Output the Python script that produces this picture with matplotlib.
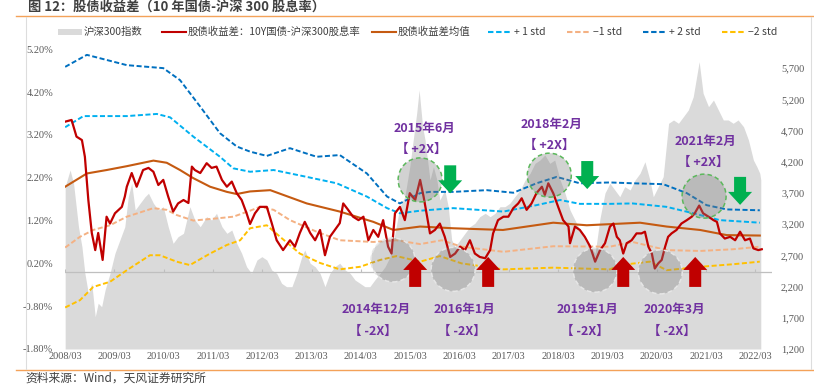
import numpy as np
import matplotlib.pyplot as plt
from matplotlib.lines import Line2D
from matplotlib.patches import Rectangle, Ellipse, Polygon

plt.rcParams['font.family'] = ['Noto Sans CJK SC', 'DejaVu Sans']
plt.rcParams['axes.unicode_minus'] = False

# ---------------- 数据（横轴为小数年份） ----------------
# 股债收益差：10Y国债-沪深300股息率 (%)
spread_x = [2008.17, 2008.30, 2008.40, 2008.51, 2008.57, 2008.64, 2008.71, 2008.78, 2008.84, 2008.93,
            2009.01, 2009.08, 2009.18, 2009.32, 2009.38, 2009.42, 2009.52, 2009.62, 2009.75, 2009.86,
            2009.96, 2010.06, 2010.16, 2010.26, 2010.36, 2010.46, 2010.57, 2010.67, 2010.74, 2010.80,
            2010.91, 2011.04, 2011.14, 2011.24, 2011.35, 2011.45, 2011.55, 2011.65, 2011.75, 2011.85,
            2011.92, 2012.02, 2012.12, 2012.26, 2012.36, 2012.46, 2012.59, 2012.73, 2012.83, 2012.93,
            2013.03, 2013.14, 2013.24, 2013.34, 2013.44, 2013.54, 2013.64, 2013.74, 2013.81, 2013.91,
            2014.01, 2014.12, 2014.22, 2014.32, 2014.42, 2014.52, 2014.62, 2014.72, 2014.79, 2014.86,
            2014.96, 2015.06, 2015.16, 2015.27, 2015.37, 2015.44, 2015.50, 2015.57, 2015.67, 2015.77,
            2015.87, 2015.98, 2016.08, 2016.18, 2016.28, 2016.38, 2016.48, 2016.58, 2016.69, 2016.79,
            2016.85, 2016.95, 2017.06, 2017.16, 2017.26, 2017.36, 2017.43, 2017.53, 2017.63, 2017.73,
            2017.84, 2017.90, 2017.97, 2018.07, 2018.17, 2018.27, 2018.38, 2018.41, 2018.51, 2018.61,
            2018.71, 2018.82, 2018.92, 2019.02, 2019.12, 2019.22, 2019.29, 2019.36, 2019.42, 2019.49,
            2019.56, 2019.66, 2019.76, 2019.86, 2019.93, 2020.00, 2020.07, 2020.13, 2020.20, 2020.27,
            2020.34, 2020.40, 2020.47, 2020.57, 2020.67, 2020.78, 2020.88, 2020.94, 2021.03, 2021.11,
            2021.22, 2021.32, 2021.39, 2021.45, 2021.55, 2021.66, 2021.76, 2021.86, 2021.96, 2022.06,
            2022.13, 2022.23, 2022.30]
spread_v = [3.51, 3.55, 3.16, 3.08, 2.69, 1.68, 0.91, 0.51, 0.91, 0.28,
            1.29, 1.13, 1.37, 1.52, 1.76, 1.99, 2.31, 1.99, 2.38, 2.43,
            2.34, 2.03, 2.15, 1.76, 1.41, 1.60, 1.68, 1.61, 2.46, 2.38,
            2.31, 2.54, 2.43, 2.46, 2.15, 1.99, 2.11, 1.84, 1.68, 1.37,
            1.12, 1.37, 1.52, 1.52, 1.14, 0.74, 0.51, 0.74, 0.59, 0.91,
            1.17, 0.91, 0.74, 0.98, 0.39, 0.82, 0.98, 1.14, 1.60, 1.45,
            1.29, 1.21, 1.29, 0.74, 0.98, 0.82, 1.21, 0.59, 0.43, 1.37,
            1.52, 1.21, 1.84, 1.68, 2.15, 1.76, 1.37, 0.90, 0.98, 1.13,
            0.82, 0.35, 0.43, 0.59, 0.51, 0.74, 0.43, 0.35, 0.32, 0.51,
            0.90, 1.21, 1.29, 1.29, 1.49, 1.60, 1.72, 1.45, 1.60, 1.84,
            1.99, 1.80, 2.07, 1.84, 1.52, 1.21, 1.06, 0.67, 1.06, 0.98,
            0.82, 0.59, 0.24, 0.51, 0.67, 1.06, 1.13, 0.82, 0.74, 0.43,
            0.67, 0.74, 0.90, 0.90, 0.94, 0.59, 0.43, 0.08, 0.20, 0.28,
            0.59, 0.82, 0.90, 0.98, 1.13, 1.21, 1.29, 1.37, 1.55, 1.37,
            1.29, 1.21, 1.17, 0.90, 0.78, 0.82, 0.74, 0.94, 0.74, 0.78,
            0.55, 0.51, 0.53]

# 沪深300指数（右轴）
csi_x = [2008.17, 2008.27, 2008.34, 2008.44, 2008.51, 2008.57, 2008.64, 2008.71, 2008.78, 2008.84,
         2008.91, 2008.98, 2009.08, 2009.18, 2009.28, 2009.38, 2009.45, 2009.52, 2009.59, 2009.69,
         2009.79, 2009.86, 2009.96, 2010.06, 2010.16, 2010.26, 2010.36, 2010.46, 2010.57, 2010.70,
         2010.80, 2010.91, 2011.04, 2011.14, 2011.24, 2011.35, 2011.45, 2011.55, 2011.65, 2011.75,
         2011.85, 2011.95, 2012.06, 2012.16, 2012.26, 2012.36, 2012.46, 2012.56, 2012.66, 2012.77,
         2012.87, 2012.97, 2013.03, 2013.14, 2013.24, 2013.34, 2013.44, 2013.54, 2013.64, 2013.74,
         2013.85, 2013.95, 2014.05, 2014.15, 2014.25, 2014.35, 2014.45, 2014.56, 2014.66, 2014.76,
         2014.86, 2014.96, 2015.06, 2015.16, 2015.23, 2015.30, 2015.35, 2015.42, 2015.47, 2015.57,
         2015.64, 2015.71, 2015.77, 2015.87, 2015.94, 2016.01, 2016.08, 2016.18, 2016.28, 2016.38,
         2016.48, 2016.58, 2016.69, 2016.79, 2016.89, 2016.99, 2017.09, 2017.19, 2017.29, 2017.40,
         2017.50, 2017.60, 2017.70, 2017.80, 2017.90, 2018.00, 2018.10, 2018.21, 2018.31, 2018.41,
         2018.51, 2018.61, 2018.71, 2018.82, 2018.92, 2019.02, 2019.12, 2019.22, 2019.32, 2019.42,
         2019.52, 2019.63, 2019.73, 2019.83, 2019.93, 2020.03, 2020.10, 2020.20, 2020.30, 2020.41,
         2020.51, 2020.61, 2020.71, 2020.81, 2020.91, 2021.03, 2021.11, 2021.22, 2021.32, 2021.42,
         2021.52, 2021.62, 2021.72, 2021.82, 2021.93, 2022.03, 2022.13, 2022.20, 2022.26, 2022.28]
csi_v = [3802, 4069, 3856, 3160, 2840, 2413, 2093, 2253, 1718, 1933,
         1878, 2146, 2413, 2734, 2947, 3160, 3641, 3856, 3428, 3536,
         3641, 3696, 3536, 3428, 3481, 3160, 2894, 3000, 3054, 3481,
         3268, 3160, 3321, 3268, 3375, 3160, 3054, 3107, 2894, 2734,
         2519, 2413, 2627, 2680, 2627, 2466, 2413, 2253, 2199, 2199,
         2413, 2680, 2787, 2574, 2519, 2413, 2199, 2413, 2519, 2574,
         2466, 2413, 2306, 2253, 2199, 2199, 2306, 2413, 2519, 2680,
         3054, 3481, 3641, 4122, 4550, 4978, 5352, 4763, 4550, 3909,
         4122, 3909, 3588, 3749, 3481, 2947, 2840, 2947, 3054, 3160,
         3214, 3321, 3375, 3321, 3375, 3481, 3481, 3536, 3641, 3749,
         3909, 4016, 4176, 4229, 4310, 4176, 4229, 3909, 3696, 3428,
         3268, 3107, 2947, 2840, 2734, 3300, 3700, 3856, 3749, 3641,
         3802, 3749, 3909, 4016, 4202, 3909, 3641, 3802, 3962, 4818,
         4871, 4818, 4924, 5031, 5244, 5805, 5299, 5084, 5191, 5031,
         4871, 4871, 4818, 4871, 4763, 4550, 4229, 4122, 4016, 3909]

# 股债收益差均值
mean_x = [2008.17, 2008.61, 2009.01, 2009.42, 2009.96, 2010.23, 2010.50, 2010.77, 2011.11, 2011.45,
          2011.65, 2011.92, 2012.33, 2013.07, 2013.74, 2014.42, 2014.83, 2015.37, 2016.04, 2017.05,
          2018.07, 2018.75, 2019.83, 2020.37, 2021.05, 2021.59, 2022.26]
mean_v = [1.99, 2.30, 2.38, 2.47, 2.60, 2.55, 2.38, 2.19, 1.99, 1.87,
          1.82, 1.88, 1.91, 1.60, 1.41, 1.17, 0.98, 1.06, 1.02, 0.98,
          1.15, 1.09, 1.15, 1.06, 0.98, 0.86, 0.85]

# +1 std
p1_x = [2008.17, 2008.54, 2009.42, 2010.03, 2010.30, 2010.77, 2011.31, 2011.58, 2011.92, 2012.40,
        2013.07, 2013.68, 2014.29, 2014.70, 2014.96, 2015.37, 2016.04, 2017.06, 2017.73, 2018.21,
        2018.61, 2019.22, 2019.68, 2020.37, 2020.91, 2021.45, 2022.26]
p1_v = [3.38, 3.64, 3.64, 3.69, 3.61, 3.16, 2.69, 2.42, 2.34, 2.38,
        2.22, 2.07, 1.76, 1.49, 1.37, 1.43, 1.49, 1.41, 1.56, 1.68,
        1.59, 1.59, 1.60, 1.52, 1.37, 1.21, 1.15]

# +2 std
p2_x = [2008.17, 2008.61, 2009.42, 2010.16, 2010.50, 2010.91, 2011.31, 2011.65, 2011.92, 2012.26,
        2012.73, 2013.27, 2013.74, 2014.29, 2014.70, 2014.96, 2015.37, 2015.57, 2016.04, 2016.72,
        2017.26, 2017.73, 2018.14, 2018.61, 2019.22, 2019.70, 2020.30, 2020.78, 2021.18, 2021.59,
        2022.26]
p2_v = [4.79, 5.07, 4.83, 4.76, 4.48, 3.86, 3.24, 2.93, 2.81, 2.71,
        2.89, 2.69, 2.73, 2.30, 1.76, 1.60, 1.84, 1.87, 1.87, 1.91,
        1.85, 2.07, 2.22, 2.07, 2.09, 2.07, 2.05, 1.84, 1.56, 1.46,
        1.44]

# -1 std
m1_x = [2008.17, 2008.47, 2008.74, 2009.08, 2009.42, 2009.96, 2010.23, 2010.43, 2010.77, 2011.24,
        2011.58, 2011.92, 2012.12, 2012.40, 2012.73, 2013.27, 2013.74, 2014.42, 2014.89, 2015.37,
        2015.81, 2016.21, 2017.06, 2018.07, 2019.22, 2019.68, 2020.37, 2021.05, 2021.72, 2022.26]
m1_v = [0.57, 0.82, 0.98, 1.09, 1.29, 1.49, 1.45, 1.33, 1.20, 1.25,
        1.29, 1.43, 1.52, 1.45, 1.21, 0.94, 0.74, 0.70, 0.74, 0.65,
        0.74, 0.59, 0.47, 0.60, 0.59, 0.70, 0.51, 0.49, 0.53, 0.59]

# -2 std
m2_x = [2008.17, 2008.47, 2008.74, 2009.08, 2009.42, 2009.89, 2010.09, 2010.43, 2010.70, 2011.11,
        2011.45, 2011.72, 2011.92, 2012.26, 2012.53, 2012.93, 2013.34, 2013.74, 2014.15, 2014.56,
        2014.89, 2015.37, 2015.77, 2016.21, 2017.06, 2018.07, 2019.22, 2019.42, 2020.03, 2020.37,
        2021.05, 2021.72, 2022.26]
m2_v = [-0.83, -0.66, -0.35, -0.23, 0.04, 0.39, 0.39, 0.24, 0.16, 0.43,
        0.63, 0.74, 1.02, 1.09, 0.82, 0.43, 0.21, 0.06, 0.12, 0.28,
        0.37, 0.24, 0.37, 0.20, 0.06, 0.10, 0.06, 0.16, 0.24, 0.04,
        0.12, 0.18, 0.24]

tick_labels = [f'{y}/03' for y in range(2008, 2023)]

# 标注：(文字位置, 圆圈中心, 箭头位置)
tops = [  # +2X
    ('2015年6月', 2015.45, 3.34, 2015.37, 2.15, 2015.98, 2.49),
    ('2018年2月', 2018.04, 3.45, 2017.99, 2.26, 2018.76, 2.59),
    ('2021年2月', 2021.16, 3.04, 2021.13, 1.77, 2021.86, 2.22),
]
bottoms = [  # -2X
    ('2014年12月', 2014.47, -0.87, 2014.82, 0.28, 2015.27),
    ('2016年1月', 2016.27, -0.87, 2016.04, 0.06, 2016.75),
    ('2019年1月', 2018.76, -0.87, 2018.92, 0.04, 2019.49),
    ('2020年3月', 2020.53, -0.87, 2020.24, 0.00, 2020.95),
]

# ---------------- 画图 ----------------
W, H = 814, 384
fig = plt.figure(figsize=(W / 100, H / 100), dpi=100)
L, R, T, B = 65, 772, 49.3, 349
ax = fig.add_axes([L / W, 1 - B / H, (R - L) / W, (B - T) / H])
ax2 = ax.twinx()
ax.set_zorder(ax2.get_zorder() + 1)
ax.patch.set_visible(False)

x0 = 2008 + 2 / 12
px_year = 49.3
x1 = x0 + (R - L) / px_year
ax.set_xlim(x0, x1)
ax.set_ylim(-1.8, 5.2)
ax2.set_ylim(1200, 6004)
sx = (R - L) / (x1 - x0)        # 像素/年
sy = (B - T) / 7.0              # 像素/1%

ax2.fill_between(csi_x, csi_v, 1200, color='#DADADA', lw=0)

dash = (0, (2.6, 1.3))
ax.axhline(0, color='#BFBFBF', lw=0.9, zorder=1)
ticks = [x0 + k for k in range(15)]
ax.vlines(ticks, 0, 0.07, color='#BFBFBF', lw=0.8, zorder=1)

ax.plot(m2_x, m2_v, color='#FFC000', lw=1.4, ls=dash, zorder=2)
ax.plot(m1_x, m1_v, color='#F4B183', lw=1.4, ls=dash, zorder=2)
ax.plot(p2_x, p2_v, color='#0070C0', lw=1.4, ls=dash, zorder=2)
ax.plot(p1_x, p1_v, color='#00B0F0', lw=1.4, ls=dash, zorder=2)
ax.plot(mean_x, mean_v, color='#C55A11', lw=1.5, zorder=3)
ax.plot(spread_x, spread_v, color='#C00000', lw=1.6, zorder=4)

for s in ['top', 'bottom', 'left', 'right']:
    ax.spines[s].set_visible(False)
    ax2.spines[s].set_visible(False)

tick_font = dict(family='Liberation Serif', size=7.5, color='#595959')
ax.set_xticks(ticks)
ax.set_xticklabels(tick_labels, **tick_font)
ax.tick_params(axis='x', length=0, pad=2.5)
yt = np.arange(-1.8, 5.21, 1.0)
ax.set_yticks(yt)
ax.set_yticklabels([f'{v:.2f}%' for v in yt], **tick_font)
ax.tick_params(axis='y', length=0, pad=8.5)
rt = np.arange(1200, 5701, 500)
ax2.set_yticks(rt)
ax2.set_yticklabels([f'{v:,}' for v in rt], **tick_font)
ax2.tick_params(axis='y', length=0, pad=6.5)


def circle(x, y, edge):
    r = 22
    ax.add_patch(Ellipse((x, y), 2 * r / sx, 2 * r / sy, facecolor='#7F7F7F', alpha=0.35,
                         edgecolor='none', zorder=5))
    ax.add_patch(Ellipse((x, y), 2 * r / sx, 2 * r / sy, facecolor='none', edgecolor=edge,
                         lw=1.1, ls=(0, (3, 2)), zorder=5))


def block_arrow(x, y_tail, y_tip, color):
    d = 1 if y_tip > y_tail else -1
    sw, hw, hl = 6 / sx, 12 / sx, 13 / sy
    yb = y_tip - d * hl
    pts = [(x - sw, y_tail), (x + sw, y_tail), (x + sw, yb), (x + hw, yb),
           (x, y_tip), (x - hw, yb), (x - sw, yb)]
    ax.add_patch(Polygon(pts, closed=True, facecolor=color, edgecolor='none', zorder=6))


txt = dict(color='#7030A0', fontsize=9, fontweight='bold', ha='center', va='center', zorder=7)
for lab, tx, ty, cx, cy, axx, ayt in tops:
    ax.text(tx, ty, lab, **txt)
    ax.text(tx - 0.05, ty - 21 / sy, '【 +2X】', **txt)
    circle(cx, cy, '#5CB85C')
    block_arrow(axx, ayt, ayt - 28 / sy, '#00B050')

for lab, tx, ty, cx, cy, axx in bottoms:
    ax.text(tx, ty, lab, **txt)
    ax.text(tx - 0.05, ty - 22 / sy, '【 -2X】', **txt)
    circle(cx, cy, '#E6E6E6')
    block_arrow(axx, -0.35, 0.35, '#C00000')

# 图例（手动排布）
ly = 1 - 32 / H
leg = [('patch', '#DADADA', 58, '沪深300指数'),
       ('-', '#C00000', 162, '股债收益差：10Y国债-沪深300股息率'),
       ('-', '#C55A11', 372, '股债收益差均值'),
       ('--', '#00B0F0', 488, '+ 1 std'),
       ('--', '#F4B183', 567, '−1 std'),
       ('--', '#0070C0', 643, '+ 2 std'),
       ('--', '#FFC000', 722, '−2 std')]
for kind, col, xp, lab in leg:
    if kind == 'patch':
        fig.add_artist(Rectangle((xp / W, ly - 2.5 / H), 24 / W, 5 / H, transform=fig.transFigure,
                                 facecolor=col, edgecolor='none'))
    else:
        fig.add_artist(Line2D([xp / W, (xp + 24) / W], [ly, ly], transform=fig.transFigure,
                              color=col, lw=1.5, ls='-' if kind == '-' else (0, (2.6, 1.3))))
    fig.text((xp + 26) / W, ly, lab, fontsize=7.5, color='#404040', va='center', ha='left')

# 标题、边框、来源
fig.text(28 / W, 1 - 7 / H, '图 12：股债收益差（10 年国债-沪深 300 股息率）', fontsize=9.5,
         fontweight='bold', color='#404040', va='center', ha='left')
for yy in (16, 369.5):
    fig.add_artist(Line2D([16 / W, 1], [1 - yy / H, 1 - yy / H], transform=fig.transFigure,
                          color='#F4A259', lw=1.0))
for xx in (25.5, 811):
    fig.add_artist(Line2D([xx / W, xx / W], [1 - 17 / H, 1 - 369 / H], transform=fig.transFigure,
                          color='#DDDDDD', lw=0.8))
fig.text(25 / W, 1 - 371.5 / H, '资料来源：Wind，天风证券研究所', fontsize=8.5, color='#404040',
         va='top', ha='left')

plt.savefig('out.png', dpi=100)
